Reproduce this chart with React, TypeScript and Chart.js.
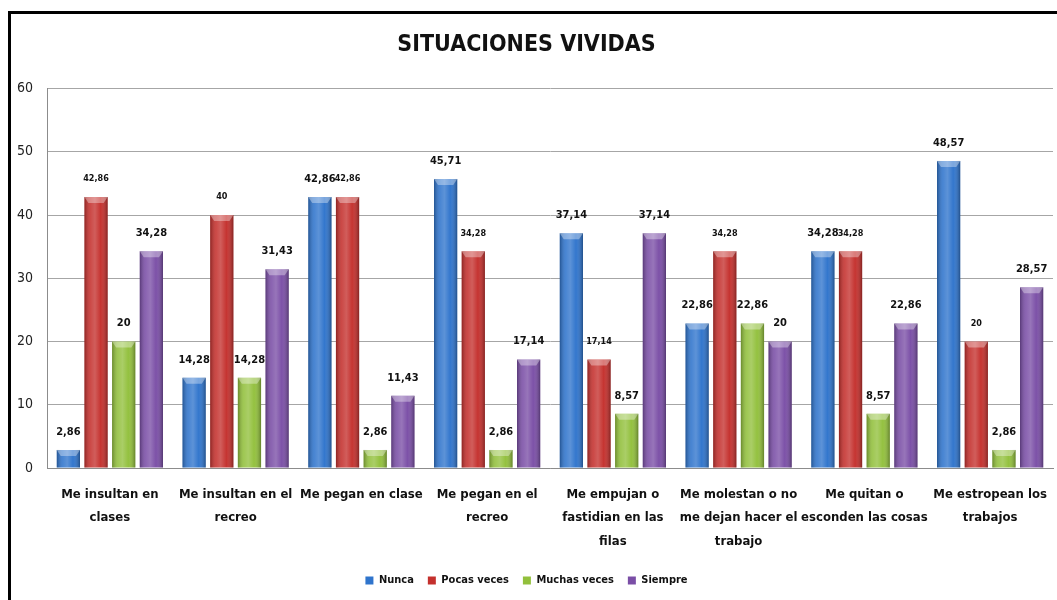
import React, { useEffect, useRef } from "react";
import { Chart, registerables } from "chart.js";

Chart.register(...registerables);

const chartTitle = "SITUACIONES VIVIDAS";
const categories: string[][] = [
  ["Me insultan en", "clases"],
  ["Me insultan en el", "recreo"],
  ["Me pegan en clase"],
  ["Me pegan en el", "recreo"],
  ["Me empujan o", "fastidian en las", "filas"],
  ["Me molestan o no", "me dejan hacer el", "trabajo"],
  ["Me quitan o", "esconden las cosas"],
  ["Me estropean los", "trabajos"],
];
const seriesNames = ["Nunca", "Pocas veces", "Muchas veces", "Siempre"];
const nunca = [2.86, 14.28, 42.86, 45.71, 37.14, 22.86, 34.28, 48.57];
const pocasVeces = [42.86, 40, 42.86, 34.28, 17.14, 34.28, 34.28, 20];
const muchasVeces = [20, 14.28, 2.86, 2.86, 8.57, 22.86, 8.57, 2.86];
const siempre = [34.28, 31.43, 11.43, 17.14, 37.14, 20, 22.86, 28.57];
const yTicks = [0, 10, 20, 30, 40, 50, 60];
const seriesColors = ["#2f74cc", "#c4302d", "#92c03c", "#7a4ea6"];
const labelSizes = [11, 9, 11, 11];

const FONT = "'DejaVu Sans Condensed', 'Liberation Sans Narrow', 'Noto Sans', sans-serif";

const framePlugin = {
  id: "frame",
  beforeDraw(chart: any) {
    const { ctx, width, height } = chart;
    ctx.save();
    ctx.fillStyle = "#ffffff";
    ctx.fillRect(0, 0, width, height);
    ctx.strokeStyle = "#000000";
    ctx.lineWidth = 3;
    ctx.beginPath();
    ctx.moveTo(9.5, height + 5);
    ctx.lineTo(9.5, 12.5);
    ctx.lineTo(width + 5, 12.5);
    ctx.stroke();
    ctx.restore();
  },
};

const barStylePlugin = {
  id: "barStyle",
  afterDatasetsDraw(chart: any) {
    const { ctx } = chart;
    ctx.save();
    chart.data.datasets.forEach((ds: any, i: number) => {
      const meta = chart.getDatasetMeta(i);
      if (meta.hidden) return;
      meta.data.forEach((el: any) => {
        const w = el.width;
        const left = el.x - w / 2;
        const top = el.y;
        const h = el.base - el.y;
        const g = ctx.createLinearGradient(left, 0, left + w, 0);
        g.addColorStop(0, "rgba(0,0,0,0.28)");
        g.addColorStop(0.25, "rgba(255,255,255,0.12)");
        g.addColorStop(0.45, "rgba(255,255,255,0.22)");
        g.addColorStop(0.7, "rgba(255,255,255,0.02)");
        g.addColorStop(1, "rgba(0,0,0,0.32)");
        ctx.fillStyle = g;
        ctx.fillRect(left, top, w, h);
        const bev = Math.min(6, h / 2);
        ctx.fillStyle = "rgba(255,255,255,0.35)";
        ctx.beginPath();
        ctx.moveTo(left, top);
        ctx.lineTo(left + w, top);
        ctx.lineTo(left + w - 4, top + bev);
        ctx.lineTo(left + 4, top + bev);
        ctx.closePath();
        ctx.fill();
      });
    });
    ctx.restore();
  },
};

const valueLabelPlugin = {
  id: "valueLabels",
  afterDatasetsDraw(chart: any) {
    const { ctx } = chart;
    ctx.save();
    ctx.textAlign = "center";
    ctx.textBaseline = "middle";
    ctx.fillStyle = "#111111";
    chart.data.datasets.forEach((ds: any, i: number) => {
      const meta = chart.getDatasetMeta(i);
      if (meta.hidden) return;
      ctx.font = `bold ${labelSizes[i]}px ${FONT}`;
      meta.data.forEach((el: any, j: number) => {
        const v = ds.data[j];
        ctx.fillText(String(v).replace(".", ","), el.x, el.y - 18);
      });
    });
    ctx.restore();
  },
};

export default function App() {
  const ref = useRef<HTMLCanvasElement | null>(null);
  useEffect(() => {
    if (!ref.current) return;
    const values = [nunca, pocasVeces, muchasVeces, siempre];
    const chart = new Chart(ref.current, {
      type: "bar",
      data: {
        labels: categories,
        datasets: seriesNames.map((name, i) => ({
          label: name,
          data: values[i],
          backgroundColor: seriesColors[i],
          borderWidth: 0,
          categoryPercentage: 0.88,
          barPercentage: 0.84,
        })),
      },
      options: {
        animation: false,
        responsive: false,
        maintainAspectRatio: false,
        layout: { padding: { top: 18, bottom: 4, left: 0, right: 4 } },
        plugins: {
          title: {
            display: true,
            text: chartTitle,
            color: "#111111",
            font: { family: FONT, size: 23, weight: "bold" },
            padding: { top: 13, bottom: 30 },
          },
          legend: {
            display: true,
            position: "bottom",
            labels: {
              boxWidth: 8,
              boxHeight: 8,
              padding: 14,
              color: "#111111",
              font: { family: FONT, size: 11, weight: "bold" },
            },
          },
          tooltip: { enabled: false },
        },
        scales: {
          x: {
            grid: { display: false },
            border: { display: true, color: "#8c8c8c", width: 1 },
            ticks: {
              color: "#111111",
              font: { family: FONT, size: 13, weight: "bold", lineHeight: 1.8 },
              maxRotation: 0,
              autoSkip: false,
              padding: 7,
            },
            afterFit(scale: any) {
              scale.height = 93;
            },
          },
          y: {
            min: 0,
            max: 60,
            afterBuildTicks(scale: any) {
              scale.ticks = yTicks.map((v) => ({ value: v }));
            },
            grid: { color: "#a6a6a6", lineWidth: 1, drawTicks: false },
            border: { display: true, color: "#8c8c8c", width: 1 },
            ticks: {
              color: "#222222",
              font: { family: FONT, size: 14 },
              padding: 14,
            },
            afterFit(scale: any) {
              scale.width = 47;
            },
          },
        },
      },
      plugins: [framePlugin, barStylePlugin, valueLabelPlugin],
    } as any);
    return () => chart.destroy();
  }, []);
  return (
    <div style={{ position: "fixed", left: 0, top: 0, width: 1057, height: 600 }}>
      <canvas ref={ref} width={1057} height={600} style={{ display: "block" }} />
    </div>
  );
}
